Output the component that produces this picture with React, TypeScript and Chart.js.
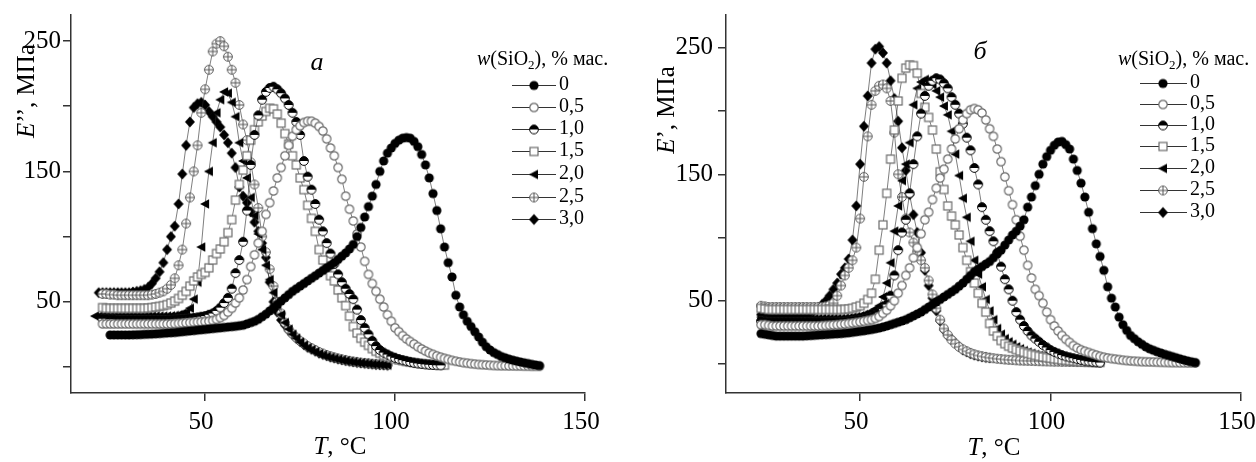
import React, { useEffect, useRef } from 'react';
import { Chart, registerables } from 'chart.js';
Chart.register(...registerables);

// Temperature grid (°C) shared by all series
const TEMPS = [21,22,23,24,25,26,27,28,29,30,31,32,33,34,35,36,37,38,39,40,41,42,43,44,45,46,47,48,49,50,51,52,53,54,55,56,57,58,59,60,61,62,63,64,65,66,67,68,69,70,71,72,73,74,75,76,77,78,79,80,81,82,83,84,85,86,87,88,89,90,91,92,93,94,95,96,97,98,99,100,101,102,103,104,105,106,107,108,109,110,111,112,113,114,115,116,117,118,119,120,121,122,123,124,125,126,127,128,129,130,131,132,133,134,135,136,137,138,139];

const SERIES_LABELS = ['0', '0,5', '1,0', '1,5', '2,0', '2,5', '3,0'];
const X_TICKS = [50, 100, 150];
const Y_TICKS = [0, 50, 100, 150, 200, 250];
const Y_LABELED = [50, 150, 250];

// ---------- Panel а ----------
const A0_START = 25;
const A0 = [24.5,24.5,24.5,24.5,24.5,24.5,24.6,24.7,24.8,25,
25.1,25.2,25.4,25.6,25.8,26,26.2,26.4,26.7,27,
27.3,27.6,27.9,28.2,28.5,28.8,29.1,29.4,29.7,30,
30.3,30.6,30.9,31.2,31.6,32,33,34,35,36.5,
38.5,40.5,43,45.5,48,50.5,53,55.5,58,60,
62,64,66,68,70,72,74,76,78,80,
82.5,85,87.5,90.5,94,100,107,115,123,131,
140,150,158,164,168,171.5,174,175.5,176,175.5,
173,169,163,155,145,133,120,106,92,80,
69,55,46,40,35,31,27,23,19,15.5,
13,11,9.5,8,7,6,5.2,4.5,3.8,3.2,
2.6,2,1.5,1];
const A05_START = 23;
const A05 = [33,33,33,33,33,33,33,33,33,33,
33,33,33,33,33,33,33,33,33,33.2,
33.4,33.6,33.8,34,34.2,34.4,34.6,34.8,35,35.6,
36.5,37.8,39.5,42,45,49,53,59,67,77,
86,95,104,117,126,135,145,153,162,170,
177,182,185,187.5,188.5,188.5,187,184.5,181,175,
168,162,153,144,131,121,112,102,92,81,
71,64,58,52,46,40,35,30,27,24,
21.5,19.5,17.5,15.5,13.8,12.2,10.8,9.6,8.5,7.5,
6.6,5.8,5,4.4,3.8,3.3,2.9,2.5,2.2,1.9,
1.7,1.5,1.3,1.1,1,0.9,0.9,0.8,0.8,0.7,
0.7,0.6,0.6,0.5,0.5,0.5];
const A10_START = 23;
const A10 = [37,37,36.5,36.5,36,36,36,36,36,36,
36,36,36,36,36,36,36,36,36.2,36.4,
36.6,36.8,37,37.3,37.6,38,38.5,39,40,41,
43,45.5,49,53,60,72,82,96,120,155,
178,193,205,211,214,215,213,210,206,201,
195,188,178,158,146,136,125,113,104,95,
87,79,71,65,60,56,52,44,36,30,
25,20,16,13,11,9.5,8,7,6,5.2,
4.5,3.8,3.2,2.7,2.3,2,1.7,1.5,1.3,1.2];
const A15_START = 23;
const A15 = [45.5,45,45,45,45,45,45,45,45,45,
45,45,45.2,45.5,46,46.5,47,47.8,49,50.5,
52.5,55,58,62,66,69,71,72.5,76,82,
87,90.5,96,103,113,128,140,151,162,174,
182,188,192.5,196,198.5,198,194,187,179,171,
162,155,145,136,124,114,104,90,82,75,
70,66,59,53,47,39,31,26,22,19,
16.5,14,12,10.5,9,8,7,6,5.4,4.8,
4.2,3.7,3.3,2.9,2.6,2.3,2,1.8,1.6,1.5,
1.4];
const A20_START = 21;
const A20 = [39,39,39,39,39,39,39,39,39,39,
39,39,39,39,39,39,39,39,39,39,
39.2,39.5,40,41,42,45,52,65,92,125,
150,172,195,205,211,210,203,192,172,158,
145,130,116,102,90,78,67,57,48,40,
34,29,25,22,19,16.5,14.5,13,11.5,10,
9,8,7.2,6.5,5.8,5.2,4.6,4.1,3.7,3.3,
3,2.7,2.4,2.1,1.9,1.7,1.5,1.3];
const A25_START = 23;
const A25 = [56,56,55.5,55.5,55,55,55,55,55,55,
55,55,55,55.5,56,57,58,60,63,68,
78,90,110,130,150,170,195,213,228,242,
248,250,246,238,228,218,201,186,174,157,
140,122,100,88,75,62,50,41,34,29,
25.5,22.5,20,18,16,14.5,13,11.5,10.3,9.2,
8.2,7.3,6.5,5.8,5.2,4.6,4.1,3.7,3.3,3,
2.7,2.4,2.2,2,1.8,1.6];
const A30_START = 22;
const A30 = [57,57,57,57,57,57,57,57,57,57.5,
58,58.5,59.5,61,64,68,73,80,90,100,
108,125,148,170,188,199,202,203,201,196,
192,188,184,178,172,164,153,138,131,126,
119,111,104,95,84,65,50,42,36,32,
28,25,22,19.5,17,15,13.5,12,10.5,9.5,
8.5,7.5,6.8,6,5.4,4.8,4.3,3.8,3.4,3,
2.7,2.4,2.1,1.8,1.6,1.4,1.2];

// ---------- Panel б ----------
const B0_START = 24;
const B0 = [24,23.5,23,22.5,22,22,22,22,22,22,
22,22,22.2,22.4,22.6,22.8,23,23.2,23.4,23.6,
23.8,24,24.3,24.6,25,25.4,25.8,26.2,26.7,27.2,
27.8,28.4,29.2,30,31,32,33,34,35,36.5,
38,39.5,41,43,45,47,49,51,53,55,
57,59,61.5,64,67,70,73,75,77,79,
81,84,87,90,94,98,102,105,109,114,
124,132,141,150,158,164,169,173,175.5,176,
173.5,170,162,153,143,132,120,107,95,85,
74,61,52,45,37,31,26.5,22.5,20,17.5,
15.5,13.5,12,10.8,9.6,8.6,7.6,6.7,5.8,4.9,
4,3.2,2.4,1.7,1];
const B05_START = 24;
const B05 = [31,31,30.5,30,30,30,30,30,30,30,
30,30,30,30,30,30,30.2,30.4,30.6,30.8,
31,31.3,31.6,32,32.4,32.8,33.3,33.8,34.4,35,
36,37.5,40,42.5,46,50,56,62,70,76,
84,92,103,114,120,130,139,147,154,162,
170,178,186,193,198,201,202,201,198.5,193,
186,180,170,160,148,137,126,114,101,90,
78,68,59,54,48,41,35,30,26,22.5,
19.5,17,14.5,12.7,11.2,10,9,8,7,6,
5.3,4.7,4.2,3.8,3.4,3,2.7,2.4,2.2,2,
1.8,1.7,1.6,1.5,1.4,1.3,1.2,1.1,1,1,
0.9,0.9,0.8,0.8,0.8];
const B10_START = 24;
const B10 = [34,33.5,33,33,33,33,33,33,33,33,
33,33,33,33,33,33,33,33,33,33,
33,33,33.3,33.6,34,34.4,34.8,35.3,36,37,
38.5,40.5,43.5,47,54,70,90,104,114,135,
158,180,198,212,220,224,226,225,222,218,
211,205,198,190,179,169,155,142,124,114,
105,97,88,77,67,59,50,41,35,30,
26,22.5,20,17.5,15,13,11,9.5,8.2,7,
6,5.2,4.5,3.8,3.2,2.6,2.1,1.7,1.4,1.1];
const B15_START = 24;
const B15 = [44,43.5,43,43,43,43,43,43,43,43,
43,43,43,43,43,43,43,43,43,43,
43,43,43.2,43.5,44,45,46,48,51,56,
67,90,110,135,162,185,208,226,234,236.5,
236,230,214,203,195,185,170,152,138,125,
117,110,102,92,82,73,64,56,48,41,
32,26,22,18.5,16,14,12.5,11.3,10.2,9.2,
8.3,7.5,6.8,6.1,5.5,5,4.5,4,3.6,3.2,
2.9,2.6,2.3,2.1,1.9,1.7,1.5,1.4,1.3,1.2];
const B20_START = 24;
const B20 = [37,36.5,36,36,36,36,36,36,36,36,
36,36,36,36,36,36,36,36,36,36,
36,36,36.2,36.5,37,37.5,38,39,40,41.5,
43.5,46,53,64,80,105,125,145,158,175,
205,218,223,225,224,221,216,211,204,197,
184,166,149,131,116,97,82,71,61,51,
42,35,28,23.5,20,17.5,15.5,13.5,12,10.5,
9.3,8.3,7.4,6.6,5.9,5.3,4.8,4.4,4,3.7,
3.4,3.1,2.9,2.7,2.5,2.3,2.1,2,1.9,1.8];
const B25_START = 24;
const B25 = [46,45.5,45,45,45,45,45,45,45,45,
45,45,45,45,45,45,45,45.5,46.5,48,
54,62,70,76,82,92,115,148,180,205,
216,220,221,218,208,183,150,132,115,104,
96,89,82,76,66,55,44,35,28,23,
19,16,13.5,11.5,10,8.7,7.6,6.7,6,5.4,
4.9,4.5,4.1,3.8,3.5,3.3,3.1,2.9,2.7,2.6,
2.5,2.4,2.3,2.2,2.1,2,1.9,1.8,1.8,1.7,
1.7,1.6,1.6,1.5,1.5,1.4,1.4,1.3,1.3,1.2];
const B30_START = 24;
const B30 = [39,39,39,39,39,39,39,39,39,39,
39,39.5,40,41,42.5,44.5,47,50,54,59,
64,71,76,83,98,125,158,188,212,238,
249,251,246,238,224,210,192,171,153,134,
118,104,88,74,62,52,42,34,27,22.5,
19.5,16.5,13.5,11,9.5,8,7,6.2,5.6,5.1,
4.7];

const MARKER_KINDS = ['filledCircle', 'openCircle', 'halfCircle', 'openSquare', 'triangleLeft', 'crossCircle', 'diamond'];
const FONT = '"Liberation Serif", "Times New Roman", serif';

function makeMarker(kind: string): HTMLCanvasElement {
  const c = document.createElement('canvas');
  c.width = 14; c.height = 14;
  const g = c.getContext('2d')!;
  const m = 7;
  g.lineWidth = 1;
  if (kind === 'filledCircle') {
    g.beginPath(); g.arc(m, m, 4.6, 0, Math.PI * 2); g.fillStyle = '#000'; g.fill();
  } else if (kind === 'openCircle') {
    g.beginPath(); g.arc(m, m, 4.2, 0, Math.PI * 2); g.fillStyle = '#fff'; g.fill();
    g.strokeStyle = '#6a6a6a'; g.lineWidth = 1.2; g.stroke();
  } else if (kind === 'halfCircle') {
    g.beginPath(); g.arc(m, m, 4.4, 0, Math.PI * 2); g.fillStyle = '#fff'; g.fill();
    g.beginPath(); g.arc(m, m, 4.4, Math.PI, Math.PI * 2); g.closePath(); g.fillStyle = '#000'; g.fill();
    g.beginPath(); g.arc(m, m, 4.4, 0, Math.PI * 2); g.strokeStyle = '#000'; g.lineWidth = 1; g.stroke();
  } else if (kind === 'openSquare') {
    g.fillStyle = '#fff'; g.fillRect(m - 4, m - 4, 8, 8);
    g.strokeStyle = '#6a6a6a'; g.lineWidth = 1.2; g.strokeRect(m - 4, m - 4, 8, 8);
  } else if (kind === 'triangleLeft') {
    g.beginPath(); g.moveTo(m - 5, m); g.lineTo(m + 4, m - 4.8); g.lineTo(m + 4, m + 4.8); g.closePath();
    g.fillStyle = '#000'; g.fill();
  } else if (kind === 'crossCircle') {
    g.beginPath(); g.arc(m, m, 4.4, 0, Math.PI * 2); g.fillStyle = '#fff'; g.fill();
    g.strokeStyle = '#555'; g.lineWidth = 1; g.stroke();
    g.beginPath(); g.moveTo(m - 4.4, m); g.lineTo(m + 4.4, m); g.moveTo(m, m - 4.4); g.lineTo(m, m + 4.4); g.stroke();
  } else if (kind === 'diamond') {
    g.beginPath(); g.moveTo(m, m - 5.6); g.lineTo(m + 5, m); g.lineTo(m, m + 5.6); g.lineTo(m - 5, m); g.closePath();
    g.fillStyle = '#000'; g.fill();
  }
  return c;
}

type Run = { t: string; italic?: boolean; sub?: boolean };

function runFont(r: Run, size: number) {
  const s = r.sub ? Math.round(size * 0.65) : size;
  return `${r.italic ? 'italic ' : ''}${s}px ${FONT}`;
}

function drawRuns(ctx: CanvasRenderingContext2D, runs: Run[], x: number, y: number, size: number, align: 'left' | 'center') {
  let total = 0;
  const widths = runs.map((r) => { ctx.font = runFont(r, size); const w = ctx.measureText(r.t).width; total += w; return w; });
  let cx = align === 'center' ? x - total / 2 : x;
  ctx.textAlign = 'left';
  ctx.textBaseline = 'middle';
  runs.forEach((r, i) => {
    ctx.font = runFont(r, size);
    ctx.fillText(r.t, cx, y + (r.sub ? size * 0.3 : 0));
    cx += widths[i];
  });
}

const toPoints = (start: number, values: number[]) => {
  const i0 = TEMPS.indexOf(start);
  return values.map((v, i) => ({ x: TEMPS[i0 + i], y: v }));
};

const LEFT_PANEL = {
  series: [[A0_START, A0], [A05_START, A05], [A10_START, A10], [A15_START, A15], [A20_START, A20], [A25_START, A25], [A30_START, A30]] as [number, number[]][],
  xMin: 14.7, xMax: 150, yMin: -20, yMax: 270,
  yWidth: 71, padRight: 43, yTickPad: 2,
  yTitle: { x: 27, y: 91, runs: [{ t: 'E', italic: true }, { t: '’’, МПа' }] as Run[] },
  xTitle: { x: 340, y: 447 },
  letter: { t: 'а', x: 317, y: 63 },
  legendTitle: { x: 477, y: 60 },
  legend: { lx1: 512, lx2: 556, mx: 534, tx: 559, rows: [85, 107, 129, 151, 174, 197, 219] },
};

const RIGHT_PANEL = {
  series: [[B0_START, B0], [B05_START, B05], [B10_START, B10], [B15_START, B15], [B20_START, B20], [B25_START, B25], [B30_START, B30]] as [number, number[]][],
  xMin: 14.8, xMax: 150, yMin: -23, yMax: 276,
  yWidth: 98, padRight: 15, yTickPad: 5,
  yTitle: { x: 39, y: 110, runs: [{ t: 'E', italic: true }, { t: '’, МПа' }] as Run[] },
  xTitle: { x: 366, y: 448 },
  letter: { t: 'б', x: 352, y: 52 },
  legendTitle: { x: 490, y: 60 },
  legend: { lx1: 512, lx2: 559, mx: 535, tx: 562, rows: [83, 104, 125, 146, 168, 190, 212] },
};

function buildConfig(panel: typeof LEFT_PANEL, markers: HTMLCanvasElement[]): any {
  const decor = {
    id: 'decor',
    afterDraw(chart: any) {
      const ctx: CanvasRenderingContext2D = chart.ctx;
      ctx.save();
      ctx.fillStyle = '#000';
      ctx.save();
      ctx.translate(panel.yTitle.x, panel.yTitle.y);
      ctx.rotate(-Math.PI / 2);
      drawRuns(ctx, panel.yTitle.runs, 0, 0, 25, 'center');
      ctx.restore();
      drawRuns(ctx, [{ t: 'T', italic: true }, { t: ', °C' }], panel.xTitle.x, panel.xTitle.y, 25, 'center');
      drawRuns(ctx, [{ t: panel.letter.t, italic: true }], panel.letter.x, panel.letter.y, 26, 'center');
      drawRuns(ctx, [{ t: 'w', italic: true }, { t: '(SiO' }, { t: '2', sub: true }, { t: '), % мас.' }], panel.legendTitle.x, panel.legendTitle.y, 20, 'left');
      const L = panel.legend;
      SERIES_LABELS.forEach((lab, i) => {
        const y = L.rows[i];
        ctx.strokeStyle = '#333';
        ctx.lineWidth = 1;
        ctx.beginPath(); ctx.moveTo(L.lx1, y + 0.5); ctx.lineTo(L.lx2, y + 0.5); ctx.stroke();
        const mk = markers[i];
        ctx.drawImage(mk, L.mx - mk.width / 2, y - mk.height / 2 + 0.5);
        ctx.fillStyle = '#000';
        drawRuns(ctx, [{ t: lab }], L.tx, y, 20, 'left');
      });
      ctx.restore();
    },
  };

  return {
    type: 'scatter',
    data: {
      datasets: panel.series.map(([start, vals], i) => ({
        label: SERIES_LABELS[i],
        data: toPoints(start, vals),
        showLine: true,
        borderColor: 'rgba(40,40,40,0.75)',
        borderWidth: 0.8,
        pointStyle: markers[i],
        pointRadius: 5,
        pointHoverRadius: 5,
        fill: false,
        tension: 0,
      })),
    },
    options: {
      animation: false,
      responsive: false,
      devicePixelRatio: 1,
      events: [],
      layout: { padding: { left: 0, right: panel.padRight, top: 15, bottom: 0 } },
      plugins: { legend: { display: false }, tooltip: { enabled: false } },
      scales: {
        x: {
          type: 'linear',
          min: panel.xMin,
          max: panel.xMax,
          border: { display: true, color: '#333', width: 1.5 },
          grid: { drawOnChartArea: false, drawTicks: true, tickLength: 8, color: '#333', lineWidth: 1.5 },
          ticks: { color: '#000', font: { family: FONT, size: 25 }, padding: 6, labelOffset: -4, maxRotation: 0, autoSkip: false },
          afterBuildTicks: (s: any) => { s.ticks = X_TICKS.map((v) => ({ value: v })); },
          afterFit: (s: any) => { s.height = 69; s.paddingLeft = 0; s.paddingRight = 0; },
        },
        y: {
          type: 'linear',
          min: panel.yMin,
          max: panel.yMax,
          border: { display: true, color: '#333', width: 1.5 },
          grid: { drawOnChartArea: false, drawTicks: true, tickLength: 8, color: '#333', lineWidth: 1.5 },
          ticks: {
            color: '#000', font: { family: FONT, size: 25 }, padding: panel.yTickPad, autoSkip: false,
            callback: (v: any) => (Y_LABELED.includes(Math.round(Number(v))) ? String(Math.round(Number(v))) : ''),
          },
          afterBuildTicks: (s: any) => { s.ticks = Y_TICKS.map((v) => ({ value: v })); },
          afterFit: (s: any) => { s.width = panel.yWidth; s.paddingTop = 0; s.paddingBottom = 0; },
        },
      },
    },
    plugins: [decor],
  };
}

export default function App() {
  const leftRef = useRef<HTMLCanvasElement>(null);
  const rightRef = useRef<HTMLCanvasElement>(null);
  useEffect(() => {
    const markers = MARKER_KINDS.map(makeMarker);
    const c1 = new Chart(leftRef.current!, buildConfig(LEFT_PANEL, markers));
    const c2 = new Chart(rightRef.current!, buildConfig(RIGHT_PANEL, markers));
    return () => { c1.destroy(); c2.destroy(); };
  }, []);
  return (
    <div style={{ position: 'absolute', left: 0, top: 0, width: 1256, height: 462, overflow: 'hidden', background: '#fff' }}>
      <canvas ref={leftRef} width={628} height={462} style={{ position: 'absolute', left: 0, top: 0, width: 628, height: 462 }} />
      <canvas ref={rightRef} width={628} height={462} style={{ position: 'absolute', left: 628, top: 0, width: 628, height: 462 }} />
    </div>
  );
}
